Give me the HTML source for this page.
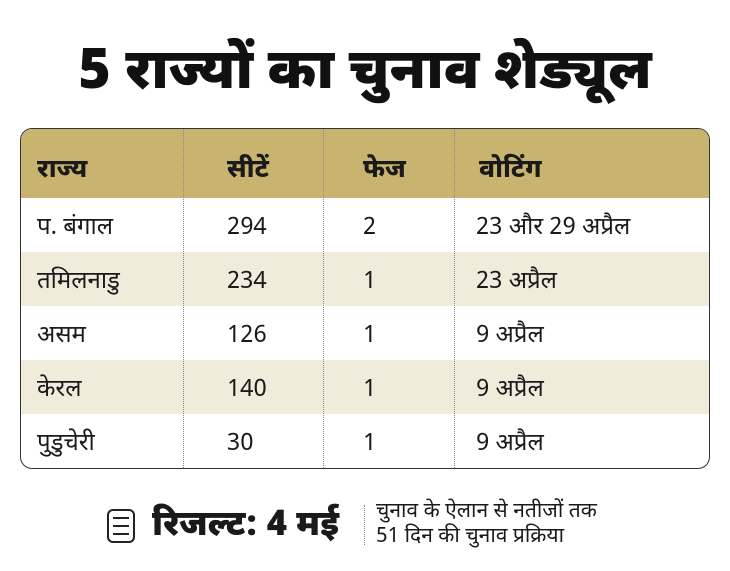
<!DOCTYPE html>
<html><head><meta charset="utf-8"><style>
*{margin:0;padding:0;box-sizing:border-box}
body{width:730px;height:571px;background:#fff;position:relative;overflow:hidden;font-family:"Noto Sans Devanagari","Lohit Devanagari","Liberation Sans",sans-serif;color:#1a1a1a}
.title{position:absolute;left:0;width:730px;top:40px;text-align:center;font-size:56px;font-weight:900;line-height:70px;color:#111}
.tbl{position:absolute;left:20px;top:128px;width:690px;height:341px;border:1.5px solid #333;border-radius:12px;overflow:hidden}
.hdr{position:absolute;left:0;top:0;width:100%;height:69px;background:#c9b46f}
.row{position:absolute;left:0;width:100%;height:54px}
.beige{background:#f1ebdb}
.cell{position:absolute;top:3px;font-size:24px;line-height:54px;white-space:nowrap}
.h{font-weight:800;font-size:26px;line-height:69px;top:8px}
.div{position:absolute;top:0;height:100%;border-left:1px dotted #888}
.foot{position:absolute}
</style></head><body>
<div class="title">5 राज्यों का चुनाव शेड्यूल</div>
<div class="tbl">
 <div class="hdr">
  <div class="cell h" style="left:16px">राज्य</div>
  <div class="cell h" style="left:206px">सीटें</div>
  <div class="cell h" style="left:342px">फेज</div>
  <div class="cell h" style="left:458px">वोटिंग</div>
 </div>
 <div id="rows"></div>
 <div class="div" style="left:162px"></div>
 <div class="div" style="left:302px"></div>
 <div class="div" style="left:433px"></div>
</div>
<div class="foot" style="left:107px;top:509px;width:28px;height:34px;border:2px solid #222;border-radius:6px">
 <div style="position:absolute;left:4px;top:6px;width:16px;height:18px;border-top:2px solid #222;border-bottom:2px solid #222"></div>
 <div style="position:absolute;left:4px;top:14px;width:16px;border-top:2px solid #222"></div>
</div>
<div class="foot" style="left:152px;top:500px;font-size:35px;font-weight:900;line-height:56px">रिजल्ट: 4 मई</div>
<div class="foot" style="left:364px;top:505px;height:40px;border-left:1px dotted #888"></div>
<div class="foot" style="left:376px;top:500px;font-size:21px;line-height:25px">चुनाव के ऐलान से नतीजों तक<br>51 दिन की चुनाव प्रक्रिया</div>
<script>
const states=["प. बंगाल","तमिलनाडु","असम","केरल","पुडुचेरी"];
const seats=[294,234,126,140,30];
const phases=[2,1,1,1,1];
const voting=["23 और 29 अप्रैल","23 अप्रैल","9 अप्रैल","9 अप्रैल","9 अप्रैल"];
const c=document.getElementById('rows');
states.forEach((s,i)=>{
 const r=document.createElement('div');
 r.className='row'+(i%2?' beige':'');
 r.style.top=(69+i*54)+'px';
 
 
 const vals=[s,seats[i],phases[i],voting[i]];
 const xs=[16,206,342,455];
 vals.forEach((v,j)=>{
  const d=document.createElement('div');
  d.className='cell';d.style.left=xs[j]+'px';d.textContent=v;
  
  
  r.appendChild(d);
 });
 c.appendChild(r);
});
</script>
</body></html>
